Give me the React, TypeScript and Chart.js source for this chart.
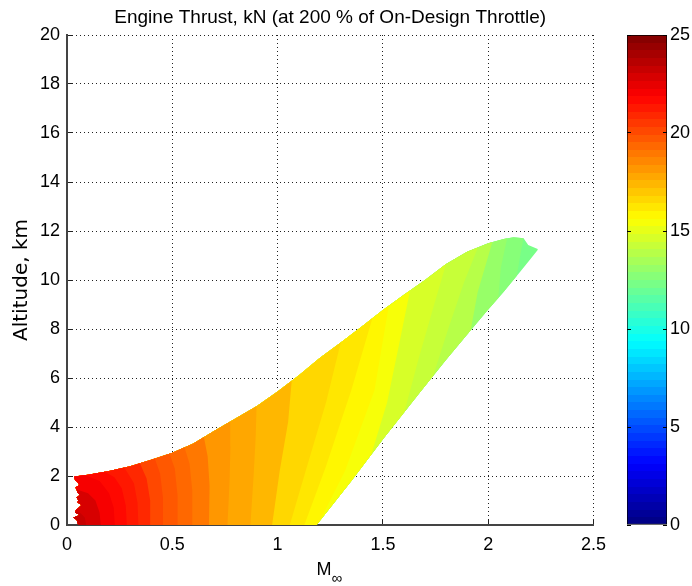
import React, { useEffect, useRef } from 'react';
import { Chart, registerables } from 'chart.js';

Chart.register(...registerables);

const FONT = "'Liberation Sans', Arial, Helvetica, sans-serif";
const LABEL_FONT = "'DejaVu Sans', Verdana, sans-serif";
const titleText = 'Engine Thrust, kN (at 200 % of On-Design Throttle)';
const yTitle = 'Altitude, km';

const xTicks = [0, 0.5, 1, 1.5, 2, 2.5];
const yTicks = [0, 2, 4, 6, 8, 10, 12, 14, 16, 18, 20];
const cbTicks = [0, 5, 10, 15, 20, 25];
const colorRange: [number, number] = [0, 25];

// operating envelope boundary, [Mach, altitude km]
const lowerEdge: number[][] = [
  [0.053, 0], [1.185, 0], [1.35, 1.8], [1.5, 3.5], [1.665, 5.3], [1.8, 6.75],
  [1.917, 7.95], [2.0, 8.8], [2.074, 9.52], [2.152, 10.34], [2.2, 10.85], [2.235, 11.22],
];
const upperEdge: number[][] = [
  [0.035, 1.98], [0.1, 2.05], [0.2, 2.2], [0.3, 2.4], [0.4, 2.66], [0.5, 2.95],
  [0.6, 3.33], [0.7, 3.85], [0.8, 4.35], [0.9, 4.85], [1.0, 5.45], [1.1, 6.1],
  [1.2, 6.82], [1.3, 7.45], [1.4, 8.1], [1.5, 8.78], [1.6, 9.4], [1.7, 10.0],
  [1.8, 10.65], [1.9, 11.15], [2.0, 11.5], [2.074, 11.67], [2.12, 11.75], [2.168, 11.7],
  [2.19, 11.43], [2.235, 11.27],
];
const leftEdge: number[][] = [
  [0.053, 0], [0.05, 0.1], [0.046, 0.2], [0.03, 0.31], [0.061, 0.41], [0.04, 0.5],
  [0.042, 0.61], [0.055, 0.7], [0.069, 0.82], [0.05, 0.92], [0.053, 1.02], [0.045, 1.12],
  [0.061, 1.22], [0.05, 1.33], [0.046, 1.43], [0.04, 1.53], [0.058, 1.63], [0.05, 1.74],
  [0.038, 1.84], [0.036, 1.92], [0.035, 1.98],
];

// thrust contour levels (kN) and their lines, [Mach, altitude km]
const levels = [12.5, 13, 13.5, 14, 14.5, 15, 15.5, 16, 16.5, 17, 17.5, 18, 18.5, 19, 19.5, 20, 20.5, 21, 21.5, 22, 22.5, 23];
const contours: number[][][] = [
  [[2.136, 10.17], [2.15, 10.9], [2.168, 11.7]],
  [[2.048, 9.27], [2.06, 10.5], [2.09, 11.7]],
  [[1.917, 7.95], [1.95, 9.5], [2.02, 11.55]],
  [[1.739, 6.09], [1.81, 8.0], [1.885, 9.9], [1.951, 11.33]],
  [[1.602, 4.61], [1.67, 6.8], [1.74, 8.9], [1.8, 10.65]],
  [[1.445, 2.88], [1.52, 5.0], [1.58, 7.5], [1.629, 9.57]],
  [[1.2, 0.164], [1.32, 2.2], [1.46, 5.5], [1.528, 8.95]],
  [[1.127, 0], [1.23, 2.4], [1.35, 5.5], [1.45, 8.44]],
  [[1.058, 0], [1.14, 2.4], [1.23, 5.0], [1.3, 7.45]],
  [[0.974, 0], [1.01, 2.2], [1.05, 4.2], [1.067, 5.89]],
  [[0.871, 0], [0.886, 2.0], [0.896, 3.6], [0.9, 4.85]],
  [[0.762, 0], [0.772, 1.8], [0.776, 3.2], [0.775, 4.22]],
  [[0.674, 0], [0.677, 1.6], [0.668, 2.8], [0.65, 3.59]],
  [[0.595, 0], [0.595, 1.4], [0.582, 2.5], [0.558, 3.17]],
  [[0.526, 0], [0.525, 1.2], [0.512, 2.3], [0.487, 2.91]],
  [[0.458, 0], [0.456, 1.1], [0.442, 2.1], [0.417, 2.71]],
  [[0.398, 0], [0.395, 1.0], [0.378, 1.9], [0.346, 2.52]],
  [[0.339, 0], [0.335, 0.9], [0.318, 1.7], [0.272, 2.344]],
  [[0.284, 0], [0.279, 0.8], [0.26, 1.5], [0.225, 1.95], [0.179, 2.17]],
  [[0.227, 0], [0.222, 0.7], [0.2, 1.3], [0.155, 1.8], [0.087, 2.035]],
  [[0.16, 0], [0.155, 0.5], [0.135, 1.0], [0.1, 1.3], [0.046, 1.45]],
  [[0.091, 0], [0.085, 0.3], [0.065, 0.48], [0.04, 0.55]],
];
const baseLevel = 12.0;

function jet(v: number): string {
  const idx = Math.min(63, Math.max(0, Math.floor((v / 25) * 64)));
  const x = (idx + 0.5) / 64;
  const c = (t: number) => Math.round(255 * Math.min(1, Math.max(0, t)));
  const r = c(Math.min(4 * x - 1.5, -4 * x + 4.5));
  const g = c(Math.min(4 * x - 0.5, -4 * x + 3.5));
  const b = c(Math.min(4 * x + 0.5, -4 * x + 2.5));
  return `rgb(${r},${g},${b})`;
}

function regionAbove(c: number[][]): number[][] {
  const m0 = c[0][0];
  const last = c[c.length - 1];
  const pts: number[][] = [];
  lowerEdge.forEach((p) => { if (p[0] < m0) pts.push(p); });
  c.forEach((p) => pts.push(p));
  const endsLeft = last[0] < 0.08 && last[1] < 1.9;
  if (endsLeft) {
    leftEdge.slice().reverse().forEach((p) => { if (p[1] < last[1]) pts.push(p); });
  } else {
    upperEdge.slice().reverse().forEach((p) => { if (p[0] < last[0]) pts.push(p); });
    leftEdge.slice(1).reverse().forEach((p) => pts.push(p));
  }
  return pts;
}

function domainShape(): number[][] {
  return [...lowerEdge, ...upperEdge.slice().reverse(), ...leftEdge.slice(1).reverse()];
}

const tickFont = { family: FONT, size: 18, weight: 'normal' as const };

export default function App() {
  const mainRef = useRef<HTMLCanvasElement>(null);
  const cbRef = useRef<HTMLCanvasElement>(null);

  useEffect(() => {
    const shapes = [
      { pts: domainShape(), color: jet(baseLevel + 0.25) },
      ...levels.map((L, i) => ({ pts: regionAbove(contours[i]), color: jet(L + 0.25) })),
    ].reverse();

    const datasets = shapes.map((s) => ({
      data: s.pts.map(([m, a]) => ({ x: m, y: a })),
      showLine: true,
      fill: 'shape',
      backgroundColor: s.color,
      borderColor: s.color,
      borderWidth: 0,
      pointRadius: 0,
      tension: 0,
    }));

    const xLabelPlugin = {
      id: 'xlabel',
      afterDraw(chart: any) {
        const ctx = chart.ctx;
        const { left, right } = chart.chartArea;
        const cx = (left + right) / 2;
        ctx.save();
        ctx.fillStyle = '#000';
        ctx.textBaseline = 'alphabetic';
        ctx.textAlign = 'left';
        ctx.font = `18px ${FONT}`;
        const mW = ctx.measureText('M').width;
        ctx.font = `15px ${FONT}`;
        const iW = ctx.measureText('∞').width;
        const x0 = cx - 1 - (mW + iW) / 2;
        ctx.font = `18px ${FONT}`;
        ctx.fillText('M', x0, chart.height - 11);
        ctx.font = `15px ${FONT}`;
        ctx.fillText('∞', x0 + mW, chart.height - 3);
        ctx.restore();
      },
    };

    const main = new Chart(mainRef.current!, {
      type: 'scatter',
      data: { datasets: datasets as any },
      options: {
        responsive: false,
        animation: false,
        devicePixelRatio: 1,
        events: [],
        layout: { padding: { left: 0, right: 23, top: 0, bottom: 0 } },
        plugins: {
          legend: { display: false },
          tooltip: { enabled: false },
          title: {
            display: true,
            fullSize: false,
            text: titleText,
            color: '#000',
            font: { family: FONT, size: 19, weight: 'normal', lineHeight: 1.2 },
            padding: { top: 6, bottom: 6.2 },
          },
        },
        scales: {
          x: {
            type: 'linear',
            min: 0,
            max: 2.5,
            afterBuildTicks: (s: any) => { s.ticks = xTicks.map((v) => ({ value: v })); },
            afterFit: (s: any) => { s.height = 61; },
            grid: { color: '#222', lineWidth: 1, drawTicks: true, tickLength: -5, tickColor: '#222', tickWidth: 1 },
            border: { display: true, color: '#444', width: 2, dash: [1, 3] },
            ticks: { color: '#000', font: tickFont, padding: 14, maxRotation: 0, autoSkip: false, callback: (v: any) => String(v) },
          },
          y: {
            type: 'linear',
            position: 'left',
            min: 0,
            max: 20,
            afterBuildTicks: (s: any) => { s.ticks = yTicks.map((v) => ({ value: v })); },
            afterFit: (s: any) => { s.width = 67; },
            grid: { color: '#222', lineWidth: 1, drawTicks: true, tickLength: -5, tickColor: '#222', tickWidth: 1 },
            border: { display: true, color: '#444', width: 2, dash: [1, 3] },
            ticks: { color: '#000', font: tickFont, padding: 12, autoSkip: false, callback: (v: any) => String(v) },
            title: {
              display: true,
              text: yTitle,
              color: '#000',
              font: { family: LABEL_FONT, size: 20, weight: 'normal', lineHeight: 1.2 },
              padding: { top: 10, bottom: 0 },
            },
          },
        },
      } as any,
      plugins: [xLabelPlugin],
    });

    const gradientFill = (ctx: any) => {
      const chart = ctx.chart;
      const ys = chart.scales.y;
      if (!chart.chartArea || !ys) return '#000';
      const y0 = ys.getPixelForValue(colorRange[0]);
      const y1 = ys.getPixelForValue(colorRange[1]);
      const g = chart.ctx.createLinearGradient(0, y0, 0, y1);
      for (let i = 0; i < 64; i++) {
        const col = jet(((i + 0.5) / 64) * 25);
        g.addColorStop(i / 64, col);
        g.addColorStop((i + 1) / 64, col);
      }
      return g;
    };

    const cb = new Chart(cbRef.current!, {
      type: 'bar',
      data: {
        labels: [''],
        datasets: [{
          data: [colorRange],
          backgroundColor: gradientFill,
          borderColor: '#000',
          borderWidth: 1,
          borderSkipped: false,
          barPercentage: 1,
          categoryPercentage: 1,
        }] as any,
      },
      options: {
        responsive: false,
        animation: false,
        devicePixelRatio: 1,
        events: [],
        layout: { padding: { left: 7, top: 35, bottom: 61, right: 0 } },
        plugins: { legend: { display: false }, tooltip: { enabled: false }, title: { display: false } },
        scales: {
          x: { display: false },
          y: {
            position: 'right',
            min: 0,
            max: 25,
            afterBuildTicks: (s: any) => { s.ticks = cbTicks.map((v) => ({ value: v })); },
            afterFit: (s: any) => { s.width = 25; },
            grid: { color: '#000', lineWidth: 1, drawTicks: false, z: 1 },
            border: { display: false, dash: [4, 32] },
            ticks: { color: '#000', font: { family: FONT, size: 18, weight: 'normal' }, padding: 3 },
          },
        },
      } as any,
    });

    return () => { main.destroy(); cb.destroy(); };
  }, []);

  return (
    <div style={{ position: 'absolute', left: 0, top: 0, width: 692, height: 586, background: '#fff' }}>
      <canvas ref={mainRef} width={620} height={586} style={{ position: 'absolute', left: 0, top: 0 }} />
      <canvas ref={cbRef} width={72} height={586} style={{ position: 'absolute', left: 620, top: 0 }} />
    </div>
  );
}
